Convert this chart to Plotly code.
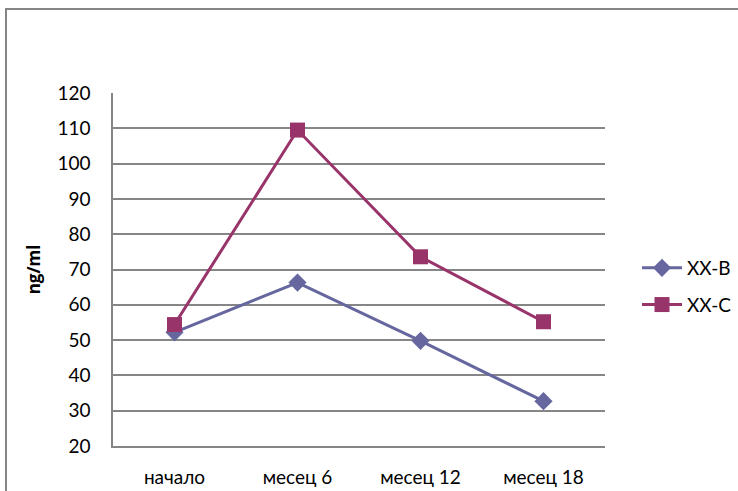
import plotly.graph_objects as go

# Measurements per visit (ng/ml)
visits = ["начало", "месец 6", "месец 12", "месец 18"]
xx_b = [52.2, 66.3, 49.8, 32.7]
xx_c = [54.4, 109.5, 73.6, 55.2]
y_ticks = [20, 30, 40, 50, 60, 70, 80, 90, 100, 110, 120]

grid_color = "#868686"
font_family = "Lato, 'Open Sans', sans-serif"

fig = go.Figure()
fig.add_trace(go.Scatter(
    x=visits, y=xx_b, name="XX-B", mode="lines+markers", legendgroup="b",
    line=dict(color="#66679E", width=3),
    marker=dict(symbol="diamond", size=14, color="#66679E"),
))
fig.add_trace(go.Scatter(
    x=visits, y=xx_c, name="XX-C", mode="lines+markers", legendgroup="c",
    line=dict(color="#98346A", width=3),
    marker=dict(symbol="square", size=15, color="#98346A"),
))

W, H = 738, 491
ml, mr, mt, mb = 113, 133, 93, 45
pw, ph = W - ml - mr, H - mt - mb

def px_x(p):
    return (p - ml) / pw

def px_y(p):
    return (H - mb - p) / ph

fig.update_layout(
    width=W, height=H,
    margin=dict(l=ml, r=mr, t=mt, b=mb, autoexpand=False),
    paper_bgcolor="white", plot_bgcolor="white",
    font=dict(family=font_family, size=19, color="black"),
    showlegend=True,
    legend=dict(
        x=px_x(637), y=px_y(249), xanchor="left", yanchor="top",
        font=dict(size=19), tracegroupgap=9, itemwidth=40,
        bgcolor="rgba(0,0,0,0)",
    ),
    xaxis=dict(
        range=[-0.5, 3.5], showgrid=False, zeroline=False,
        showline=True, linecolor=grid_color, linewidth=1.5,
        ticks="", ticklabelstandoff=13, automargin=False,
    ),
    yaxis=dict(
        range=[20, 120], tickvals=y_ticks, showgrid=True,
        gridcolor=grid_color, gridwidth=1.5, zeroline=False,
        showline=True, linecolor=grid_color, linewidth=1.5,
        ticks="", ticklabelstandoff=17, automargin=False,
        title=dict(text="<b>ng/ml</b>", standoff=12,
                   font=dict(size=17, family="'Open Sans', sans-serif")),
    ),
    shapes=[dict(
        type="rect", xref="paper", yref="paper",
        x0=px_x(6), x1=px_x(900), y0=px_y(700), y1=px_y(9),
        line=dict(color=grid_color, width=2), layer="below",
    )],
)

fig.write_html("out.html")
